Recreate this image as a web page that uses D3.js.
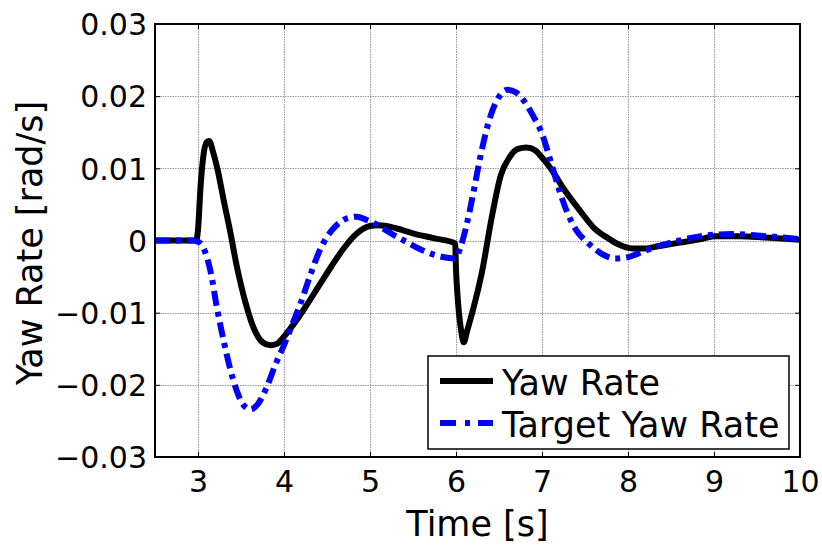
<!DOCTYPE html>
<html>
<head>
<meta charset="utf-8">
<script src="https://cdn.jsdelivr.net/npm/d3@7/dist/d3.min.js"></script>
<style>
  html, body { margin: 0; padding: 0; background: #fff; }
  svg { display: block; }
  text { font-family: "DejaVu Sans", "Liberation Sans", sans-serif; fill: #000; }
</style>
</head>
<body>
<svg id="chart" width="822" height="547"></svg>
<script>
// Measured yaw rate response [s, rad/s]
const yawTime = [2.5, 2.98, 3.0, 3.03, 3.06, 3.1, 3.13, 3.17, 3.23, 3.3, 3.37, 3.45, 3.55, 3.65, 3.75, 3.84, 3.92, 4.0, 4.1, 4.25, 4.4, 4.55, 4.7, 4.85, 5.0, 5.1, 5.3, 5.5, 5.75, 5.99, 6.0, 6.02, 6.06, 6.09, 6.13, 6.2, 6.3, 6.42, 6.52, 6.62, 6.72, 6.82, 6.92, 7.0, 7.1, 7.25, 7.45, 7.6, 7.77, 7.9, 8.05, 8.2, 8.35, 8.6, 8.85, 9.0, 9.3, 9.6, 10.0];
const yawRate = [0, 0, 0.0015, 0.0075, 0.0115, 0.0136, 0.0138, 0.0125, 0.0097, 0.0055, 0.0015, -0.0035, -0.0085, -0.0122, -0.0141, -0.0145, -0.0143, -0.0133, -0.0118, -0.0092, -0.0064, -0.0036, -0.0010, 0.0010, 0.0020, 0.0021, 0.0017, 0.0010, 0.0003, -0.0004, -0.0040, -0.0080, -0.0125, -0.0141, -0.0125, -0.0095, -0.0045, 0.0035, 0.0090, 0.0115, 0.0127, 0.0129, 0.0125, 0.0115, 0.0100, 0.0072, 0.0040, 0.0018, 0.0003, -0.0006, -0.0011, -0.0011, -0.0008, -0.0003, 0.0002, 0.0006, 0.0006, 0.0004, 0.0001];

// Target yaw rate [s, rad/s]
const targetTime = [2.5, 2.95, 3.02, 3.08, 3.15, 3.22, 3.3, 3.37, 3.45, 3.53, 3.61, 3.7, 3.8, 3.9, 4.0, 4.1, 4.19, 4.3, 4.4, 4.5, 4.6, 4.74, 4.85, 4.95, 5.05, 5.16, 5.3, 5.44, 5.6, 5.75, 5.9, 5.99, 6.05, 6.12, 6.2, 6.29, 6.4, 6.5, 6.6, 6.7, 6.8, 6.9, 7.0, 7.1, 7.2, 7.3, 7.4, 7.54, 7.7, 7.85, 8.0, 8.2, 8.4, 8.6, 8.8, 9.0, 9.2, 9.5, 9.8, 10.0];
const targetRate = [0, 0, -0.0003, -0.0015, -0.0045, -0.0093, -0.0140, -0.0176, -0.0208, -0.0228, -0.0234, -0.0226, -0.0203, -0.0172, -0.0145, -0.0115, -0.0088, -0.0050, -0.0018, 0.0005, 0.0020, 0.0031, 0.0033, 0.0029, 0.0024, 0.0016, 0.0006, -0.0003, -0.0013, -0.0020, -0.0024, -0.0025, -0.0010, 0.0020, 0.0065, 0.0120, 0.0172, 0.0199, 0.0209, 0.0205, 0.0192, 0.0172, 0.0148, 0.0110, 0.0070, 0.0037, 0.0014, -0.0004, -0.0019, -0.0025, -0.0023, -0.0014, -0.0006, 0.0000, 0.0005, 0.0008, 0.0009, 0.0007, 0.0004, 0.0002];

const xTicks = [3, 4, 5, 6, 7, 8, 9, 10];
const yTicks = [-0.03, -0.02, -0.01, 0, 0.01, 0.02, 0.03];
const yTickLabels = ["\u22120.03", "\u22120.02", "\u22120.01", "0", "0.01", "0.02", "0.03"];
const seriesNames = ["Yaw Rate", "Target Yaw Rate"];

const svg = d3.select("#chart");
const plot = { left: 155, top: 24, right: 800, bottom: 457 };

const x = d3.scaleLinear().domain([2.5, 10]).range([plot.left, plot.right]);
const y = d3.scaleLinear().domain([-0.03, 0.03]).range([plot.bottom, plot.top]);

// grid
const grid = svg.append("g").attr("stroke", "#999").attr("stroke-width", 1).attr("stroke-dasharray", "1.5,1");
grid.selectAll(".gx").data(xTicks.filter(t => t < 10)).join("line")
  .attr("x1", d => Math.round(x(d)) + 0.5).attr("x2", d => Math.round(x(d)) + 0.5)
  .attr("y1", plot.top).attr("y2", plot.bottom);
grid.selectAll(".gy").data(yTicks.filter(t => t > -0.03 && t < 0.03)).join("line")
  .attr("y1", d => Math.round(y(d)) + 0.5).attr("y2", d => Math.round(y(d)) + 0.5)
  .attr("x1", plot.left).attr("x2", plot.right);

// axes (inward ticks, boxed)
const tickLen = 5;
const xAxis = d3.axisBottom(x).tickValues(xTicks).tickSize(-tickLen).tickPadding(14).tickFormat(d3.format("d"));
const yAxis = d3.axisLeft(y).tickValues(yTicks).tickSize(-tickLen).tickPadding(8).tickFormat((d, i) => yTickLabels[i]);

const gx = svg.append("g").attr("transform", `translate(0,${plot.bottom})`).call(xAxis);
const gy = svg.append("g").attr("transform", `translate(${plot.left},0)`).call(yAxis);
const gxTop = svg.append("g").attr("transform", `translate(0,${plot.top})`).call(d3.axisTop(x).tickValues(xTicks).tickSize(-tickLen).tickFormat(""));
const gyRight = svg.append("g").attr("transform", `translate(${plot.right},0)`).call(d3.axisRight(y).tickValues(yTicks).tickSize(-tickLen).tickFormat(""));

[gx, gy, gxTop, gyRight].forEach(g => {
  g.select(".domain").remove();
  g.selectAll(".tick line").attr("stroke", "#000").attr("stroke-width", 1);
});
gx.selectAll(".tick text").style("font-family", "DejaVu Sans").attr("font-size", 30).attr("fill", "#000");
gy.selectAll(".tick text").style("font-family", "DejaVu Sans").attr("font-size", 30).attr("fill", "#000").attr("dy", "0.36em");

// series
const line = d3.line().x(d => x(d[0])).y(d => y(d[1])).curve(d3.curveMonotoneX);
const yawPts = yawTime.map((t, i) => [t, yawRate[i]]);
const targetPts = targetTime.map((t, i) => [t, targetRate[i]]);

svg.append("path").datum(yawPts).attr("d", line)
  .attr("fill", "none").attr("stroke", "#000").attr("stroke-width", 6).attr("stroke-linejoin", "round");
svg.append("path").datum(targetPts).attr("d", line)
  .attr("fill", "none").attr("stroke", "#0000ff").attr("stroke-width", 6)
  .attr("stroke-dasharray", "15,6,5,6");

// box
svg.append("rect").attr("x", plot.left).attr("y", plot.top)
  .attr("width", plot.right - plot.left).attr("height", plot.bottom - plot.top)
  .attr("fill", "none").attr("stroke", "#000").attr("stroke-width", 2);

// axis titles
svg.append("text").attr("x", (plot.left + plot.right) / 2).attr("y", 536)
  .attr("text-anchor", "middle").attr("font-size", 35).text("Time [s]");
svg.append("text").attr("transform", `translate(42,${(98 + 388) / 2}) rotate(-90)`)
  .attr("text-anchor", "middle").attr("font-size", 35).text("Yaw Rate [rad/s]");

// legend
const legend = svg.append("g");
legend.append("rect").attr("x", 428).attr("y", 356).attr("width", 361).attr("height", 93)
  .attr("fill", "#fff").attr("stroke", "#000").attr("stroke-width", 1.5);
const legendItems = [
  { name: seriesNames[0], color: "#000", dash: null, yy: 381 },
  { name: seriesNames[1], color: "#0000ff", dash: "16,9,5,8", yy: 423 }
];
legendItems.forEach(it => {
  legend.append("line").attr("x1", 440).attr("x2", 493).attr("y1", it.yy).attr("y2", it.yy)
    .attr("stroke", it.color).attr("stroke-width", 6).attr("stroke-dasharray", it.dash);
  legend.append("text").attr("x", 502).attr("y", it.yy + 14).attr("font-size", 35).text(it.name);
});
</script>
</body>
</html>
